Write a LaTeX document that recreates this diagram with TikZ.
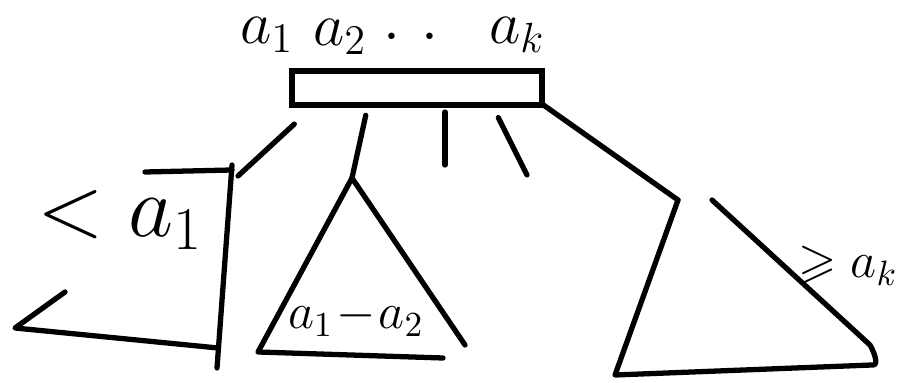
\documentclass[tikz,border=0pt]{standalone}
\usepackage{amsmath,amssymb}
\usepackage{tikz}
\usetikzlibrary{calc,positioning}
\tikzset{
    % ink stroke of the sketch
    inkline/.style={
        line width=1.5pt,
        black,
        line cap=round,
        line join=round
    },
    keybox/.style={
        draw,
        line width=1.5pt,
        minimum width=2.5cm,
        minimum height=0.34cm,
        inner sep=0pt
    },
    keylabel/.style={
        font=\fontsize{18}{22}\selectfont,
        inner sep=0pt
    },
    treelabel/.style={
        font=\fontsize{14}{18}\selectfont
    }
}

\begin{document}
\begin{tikzpicture}[x=0.01cm, y=-0.01cm]
	\useasboundingbox (0,0) rectangle (901,383);

	% the node with its keys
	\node [keybox] (keys) at (417,88) {};
	\node [keylabel] (ka) at (267,35) {$a_1$};
	\node [keylabel] (kb) at (340,37) {$a_2$};
	\node [keylabel] (kdota) at (392,38) {$\cdot$};
	\node [keylabel] (kdotb) at (430,38) {$\cdot$};
	\node [keylabel] (kk) at (517,35) {$a_k$};

	% where the pointers leave the node
	\coordinate (p1) at (315,105);
	\coordinate (p2) at (368,105);
	\coordinate (p3) at (445,105);
	\coordinate (p4) at (492,105);
	\coordinate (p5) at (542,104);

	% tops of the subtrees and loose pointer ends
	\coordinate (ltop) at (238,176);
	\coordinate (mtop) at (352,178);
	\coordinate (q3) at (445,165);
	\coordinate (q4) at (527,175);
	\coordinate (rtop) at (678,200);

	\draw[inkline, shorten <=8pt] (p1) -- (ltop);
	\draw[inkline, shorten <=3pt] (p2) -- (mtop);
	\draw[inkline, shorten <=2pt] (p3) -- (q3);
	\draw[inkline, shorten <=4pt] (p4) -- (q4);
	\draw[inkline] (p5) -- (rtop);

	% left subtree
	\draw[inkline] (145,172) -- (232,170);
	\draw[inkline] (232,165) -- (217,368);
	\draw[inkline] (65,292) -- (15,328) -- (218,348);
	\node [font=\fontsize{26}{30}\selectfont] (lless) at (120,220) {$<a_1$};

	% middle subtree
	\draw[inkline] (465,345) -- (mtop) -- (258,352) -- (443,358);
	\node [treelabel] (mrange) at (356,318) {$a_1\!-\!a_2$};

	% right subtree
	\draw[inkline] (rtop) -- (615,375) -- (872,365) to[out=-10, in=-60] (870,345) -- (712,200);
	\node [treelabel] (rmore) at (848,266) {$\geqslant a_k$};
\end{tikzpicture}
\end{document}
